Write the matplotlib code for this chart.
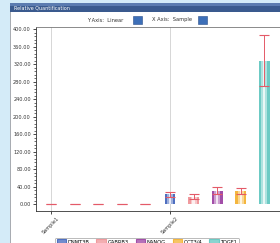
import matplotlib
matplotlib.use("Agg")
import matplotlib.pyplot as plt
import numpy as np
from matplotlib.patches import Rectangle, Patch
from matplotlib.colors import to_rgb

samples = ["Sample1", "Sample2"]
genes = ["DNMT3B", "GABRB3", "NANOG", "OCT3/4", "TDGF1"]
values = {
    "DNMT3B": [1.0, 22.0],
    "GABRB3": [1.0, 17.0],
    "NANOG": [1.0, 30.0],
    "OCT3/4": [1.0, 30.0],
    "TDGF1": [1.0, 328.0],
}
errors = {
    "DNMT3B": [0.0, 6.0],
    "GABRB3": [0.0, 5.0],
    "NANOG": [0.0, 8.0],
    "OCT3/4": [0.0, 7.0],
    "TDGF1": [0.0, 58.0],
}
colors = ["#4f6fc0", "#f09a9e", "#a24ea8", "#f4b63e", "#6ccac4"]
yticks = np.arange(0, 401, 40)

W, H = 280, 243
fig = plt.figure(figsize=(W / 100, H / 100), dpi=100)
fig.patch.set_facecolor("#d4ebf8")

def fx(px):
    return px / W

def fy(py):
    return 1 - py / H

def rect(x0, y0, x1, y1, fc, ec="none", lw=0, z=-10):
    fig.patches.append(Rectangle((fx(x0), fy(y1)), fx(x1) - fx(x0), fy(y0) - fy(y1),
                                 transform=fig.transFigure, facecolor=fc, edgecolor=ec,
                                 linewidth=lw, zorder=z))

# panel
rect(10, 12, 281, 244, "white", z=-10)
rect(9.5, 12, 11, 244, "#a8acb2", z=-9)
# title bar
rect(10, 3.5, 281, 12.5, "#3a5a8e", z=-9)
rect(10, 3.5, 281, 6.5, "#5b7bb0", z=-8)
fig.text(fx(14), fy(8), "Relative Quantification", color="white", fontsize=3.5,
         va="center", ha="left")

# toolbar
fig.text(fx(87), fy(20), "Y Axis:  Linear", fontsize=3.7, va="center", ha="left", color="#333333")
rect(133, 16, 142, 24, "#3d6fb8", "#2a4f8a", 0.4, z=-7)
fig.text(fx(152), fy(20), "X Axis:  Sample", fontsize=3.7, va="center", ha="left", color="#333333")
rect(198, 16, 207, 24, "#3d6fb8", "#2a4f8a", 0.4, z=-7)

# axes
ax = fig.add_axes([fx(36), fy(211), 1 - fx(36), fy(27) - fy(211)])
ax.set_facecolor("white")
x = np.arange(len(samples))
step = 0.198
bw = 0.092
ax.set_xlim(-0.126, 1.924)
ax.set_ylim(-16, 405)

for g in x:
    ax.axvline(g, color="#d0d0d0", linewidth=0.6, zorder=0)

def lighten(c, f):
    r, gg, b = to_rgb(c)
    return (r + (1 - r) * f, gg + (1 - gg) * f, b + (1 - b) * f)

for i, gene in enumerate(genes):
    pos = x + i * step
    v = values[gene]
    e = errors[gene]
    ax.bar(pos, v, width=bw, color=colors[i], edgecolor="none", zorder=2)
    ax.bar(pos, v, width=bw * 0.55, color=lighten(colors[i], 0.45), edgecolor="none", zorder=3)
    ax.bar(pos, v, width=bw * 0.2, color=lighten(colors[i], 0.85), edgecolor="none", zorder=4)
    ax.errorbar(pos, v, yerr=e, fmt="none", ecolor="#e45a68", elinewidth=0.7,
                capsize=3.3, capthick=0.8, zorder=5)

ax.set_xticks(x)
ax.set_xticklabels(samples, rotation=45, ha="center", va="top", fontsize=3.6, color="#333333")
ax.set_yticks(yticks)
ax.set_yticklabels([f"{t:.2f}" for t in yticks], fontsize=3.6, color="#333333")
ax.set_yticks(np.arange(0, 405, 8), minor=True)
ax.tick_params(axis="y", which="major", length=2.5, width=0.5, pad=1.2, direction="out")
ax.tick_params(axis="y", which="minor", length=1.2, width=0.4, direction="out")
ax.tick_params(axis="x", which="major", length=2.5, width=0.5, pad=1.0, direction="out")
for s in ["left", "bottom", "top"]:
    ax.spines[s].set_linewidth(0.6)
    ax.spines[s].set_color("#333333")
ax.spines["top"].set_color("#777777")
ax.spines["right"].set_visible(False)

handles = [Patch(facecolor=lighten(colors[i], 0.2), edgecolor=colors[i], linewidth=0.8)
           for i in range(len(genes))]
leg = fig.legend(handles, genes, loc="center", bbox_to_anchor=(fx(147), fy(242)), ncol=5,
                 fontsize=3.7, frameon=True, handlelength=1.8, handleheight=1.0,
                 handletextpad=0.4, columnspacing=1.3, borderpad=0.35, fancybox=True)
leg.get_frame().set_linewidth(0.5)
leg.get_frame().set_edgecolor("#888888")

fig.savefig("out.png", dpi=100, facecolor=fig.get_facecolor())
